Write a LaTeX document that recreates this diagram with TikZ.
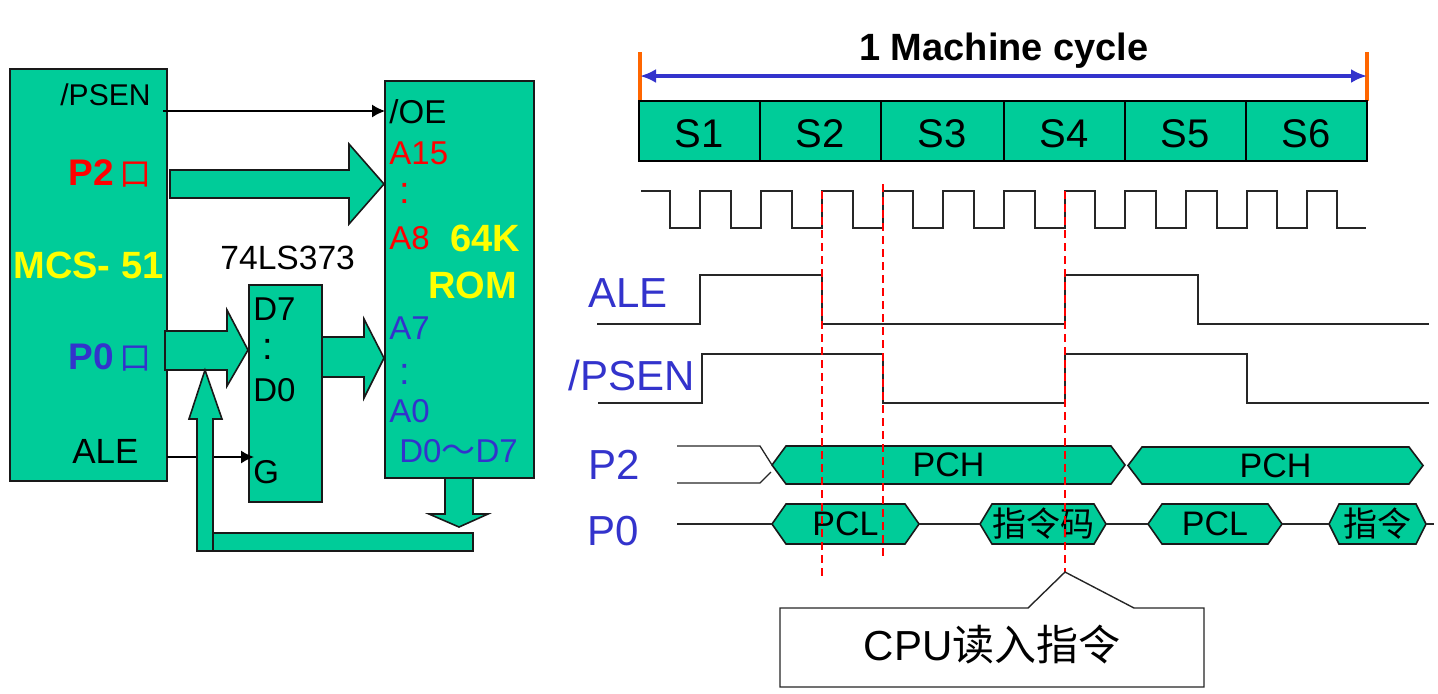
\documentclass[tikz,border=0pt]{standalone}
\usepackage{fontspec}
\setmainfont{Liberation Sans}
\newfontfamily\cjk{Noto Sans CJK SC}
\usetikzlibrary{arrows.meta}
\definecolor{grn}{HTML}{00CC99}
\definecolor{blu}{HTML}{3333CC}
\definecolor{redd}{HTML}{FF0000}
\definecolor{yel}{HTML}{FFFF00}
\definecolor{org}{HTML}{FF6600}
\newcommand{\fsz}[1]{\fontsize{#1}{#1}\selectfont}
\newcommand{\hexa}[7]{% name,x1,x2,y1,y2,inset,text
  \coordinate (#1-l) at (#2,{(#4+#5)/2});
  \coordinate (#1-r) at (#3,{(#4+#5)/2});
  \draw[blockshape] (#1-l) -- (#2+#6,#4) -- (#3-#6,#4) -- (#1-r) -- (#3-#6,#5) -- (#2+#6,#5) -- cycle;
  \node[txt,font=\fsz{17}] (#1) at ({(#2+#3)/2},{(#4+#5)/2}) {#7};
}
\tikzset{
  x=0.5pt,y=-0.5pt,
  blockshape/.style={draw=black!90,fill=grn,line width=0.8pt,line join=miter},
  blockbox/.style={draw=black!90,fill=grn,line width=0.8pt,anchor=north west,inner sep=0pt},
  cell/.style={draw=black,fill=grn,line width=0.8pt,inner sep=0pt,minimum height=30pt,font=\fsz{20},text height=16.3pt,text depth=0pt},
  txt/.style={inner sep=0pt,text=black,font=\fsz{16}},
  dots/.style={inner sep=0pt,font=\fsz{19}},
  boldy/.style={inner sep=0pt,text=yel,font=\fsz{19}\bfseries},
  wire/.style={draw=black,line width=0.7pt,-{Latex[length=6.5pt,width=6.5pt]}},
  sig/.style={draw=black!85,line width=0.65pt,line join=miter},
  guide/.style={draw=redd,line width=0.6pt,dash pattern=on 4pt off 2.5pt},
  tick/.style={draw=org,line width=1.9pt},
  span/.style={draw=blu,line width=1.9pt,{Latex[length=8pt,width=7pt]}-{Latex[length=8pt,width=7pt]}},
}
\begin{document}
\begin{tikzpicture}
\useasboundingbox (0,0) rectangle (1438,693);
% Left: boxes
\node[blockbox,minimum width=78.5pt,minimum height=206pt] (mcu) at (9,68) {};
\node[blockbox,minimum width=74.5pt,minimum height=198.5pt] (rom) at (384,80) {};
\node[blockbox,minimum width=36.5pt,minimum height=108.5pt] (latch) at (248,284) {};
% Left: thin connectors
\coordinate (psenout) at (163,111);
\coordinate (oein) at (385,111);
\draw[wire] (psenout) -- (oein);
\coordinate (aleout) at (167,457);
\coordinate (gin) at (254,457);
\draw[wire] (aleout) -- (gin);
% Left: block arrows
\draw[blockshape] (170,170) -- (349,170) -- (349,144) -- (384,184) -- (349,224) -- (349,198) -- (170,198) -- cycle;
\draw[blockshape] (165,331) -- (227,331) -- (227,310) -- (248,350) -- (227,386) -- (227,370) -- (165,370) -- cycle;
\draw[blockshape] (322,337) -- (364,337) -- (364,319) -- (384,358) -- (364,398) -- (364,377) -- (322,377) -- cycle;
\draw[blockshape] (445,478) -- (473,478) -- (473,514) -- (488,514) -- (459,527) -- (429,514) -- (445,514) -- cycle;
\draw[blockshape] (213,533) -- (473,533) -- (473,551) -- (213,551) -- cycle;
\draw[blockshape] (197,551) -- (197,419) -- (189,419) -- (205,370) -- (222,419) -- (213,419) -- (213,551) -- cycle;
% Left: text
\node[txt,anchor=west,font=\fsz{15}] (tpsen) at (60,95) {/PSEN};
\node[inner sep=0pt,text=redd,font=\fsz{18.5}\bfseries,anchor=west] (tp2) at (68,173) {P2\hspace{3pt}{\cjk\mdseries\fsz{16}口}};
\node[boldy,anchor=west] (tmcs) at (13,265) {MCS- 51};
\node[inner sep=0pt,text=blu,font=\fsz{18.5}\bfseries,anchor=west] (tp0) at (68,357) {P0\hspace{3pt}{\cjk\mdseries\fsz{16}口}};
\node[txt,anchor=west,font=\fsz{17.5}] (tale) at (72,451) {ALE};
\node[txt,anchor=west,font=\fsz{16.8}] (t373) at (220,258) {74LS373};
\node[txt,anchor=west,font=\fsz{16.5}] (td7) at (253,309) {D7};
\node[dots] (tdd) at (268,349) {:};
\node[txt,anchor=west,font=\fsz{16.5}] (td0) at (253,390) {D0};
\node[txt,anchor=west,font=\fsz{16.5}] (tg) at (253,472) {G};
\node[txt,anchor=west,font=\fsz{16.5}] (toe) at (389,112) {/OE};
\node[txt,anchor=west,text=redd,font=\fsz{16.5}] (ta15) at (389,153) {A15};
\node[dots,text=redd] (tr1) at (405,193) {:};
\node[txt,anchor=west,text=redd,font=\fsz{16.5}] (ta8) at (389,238) {A8};
\node[boldy,anchor=west] (t64) at (450,238) {64K};
\node[boldy,anchor=west] (trom) at (428,285) {ROM};
\node[txt,anchor=west,text=blu,font=\fsz{16.5}] (ta7) at (389,328) {A7};
\node[dots,text=blu] (tb1) at (405,374) {:};
\node[txt,anchor=west,text=blu,font=\fsz{16.5}] (ta0) at (389,411) {A0};
\node[txt,anchor=west,text=blu,font=\fsz{16.5}] (tdr) at (399,451) {D0{\cjk\fsz{17}～}D7};
% Right: top
\node[inner sep=0pt,font=\fsz{19}\bfseries] (title) at (1004,51) {1 Machine cycle};
\coordinate (t1a) at (640,52); \coordinate (t1b) at (640,101);
\coordinate (t2a) at (1367,52); \coordinate (t2b) at (1367,101);
\draw[tick] (t1a) -- (t1b);
\draw[tick] (t2a) -- (t2b);
\coordinate (sa) at (640,76); \coordinate (sb) at (1367,76);
\draw[span] (sa) -- (sb);
\node[cell,minimum width=60.5pt,anchor=north west] (s1) at (638,100) {S1};
\node[cell,minimum width=60.5pt,anchor=north west] (s2) at (759,100) {S2};
\node[cell,minimum width=61.5pt,anchor=north west] (s3) at (880,100) {S3};
\node[cell,minimum width=60.5pt,anchor=north west] (s4) at (1003,100) {S4};
\node[cell,minimum width=60.5pt,anchor=north west] (s5) at (1124,100) {S5};
\node[cell,minimum width=60.5pt,anchor=north west] (s6) at (1245,100) {S6};
% Waveforms
\draw[sig] (641,191) -- (670,191) -- (670,228) -- (700,228) -- (700,191) -- (731,191) -- (731,228) -- (761,228) -- (761,191) -- (792,191) -- (792,228) -- (822,228) -- (822,191) -- (853,191) -- (853,228) -- (883,228) -- (883,191) -- (913,191) -- (913,228) -- (943,228) -- (943,191) -- (974,191) -- (974,228) -- (1004,228) -- (1004,191) -- (1035,191) -- (1035,228) -- (1065,228) -- (1065,191) -- (1095,191) -- (1095,228) -- (1125,228) -- (1125,191) -- (1156,191) -- (1156,228) -- (1186,228) -- (1186,191) -- (1217,191) -- (1217,228) -- (1247,228) -- (1247,191) -- (1277,191) -- (1277,228) -- (1307,228) -- (1307,191) -- (1337,191) -- (1337,228) -- (1366,228);
\draw[sig] (597,324) -- (700,324) -- (700,275) -- (822,275) -- (822,324) -- (1065,324) -- (1065,275) -- (1198,275) -- (1198,324) -- (1429,324);
\draw[sig] (598,403) -- (702,403) -- (702,354) -- (883,354) -- (883,403) -- (1065,403) -- (1065,354) -- (1247,354) -- (1247,403) -- (1429,403);
% Signal labels
\node[inner sep=0pt,text=blu,font=\fsz{21}] (lale) at (628,293) {ALE};
\node[inner sep=0pt,text=blu,font=\fsz{21}] (lpsen) at (632,375) {/PSEN};
\node[inner sep=0pt,text=blu,font=\fsz{21}] (lp2) at (614,465) {P2};
\node[inner sep=0pt,text=blu,font=\fsz{21}] (lp0) at (613,531) {P0};
% Buses
\hexa{pcha}{772}{1125}{446}{484}{14}{PCH}
\hexa{pchb}{1128}{1423}{447}{484}{14}{PCH}
\coordinate (p2a) at (677,446); \coordinate (p2b) at (677,483);
\draw[sig] (p2a) -- (760,446) -- (pcha-l);
\draw[sig] (p2b) -- (760,483) -- (771,472);
\hexa{pcla}{772}{919}{504}{544}{14}{PCL}
\hexa{cmda}{980}{1106}{504}{544}{12}{\cjk 指令码}
\hexa{pclb}{1148}{1282}{504}{544}{14}{PCL}
\hexa{cmdb}{1329}{1426}{504}{544}{10}{\cjk 指令}
\coordinate (p0a) at (677,524); \coordinate (p0b) at (1434,524);
\draw[sig] (p0a) -- (pcla-l);
\draw[sig] (pcla-r) -- (cmda-l);
\draw[sig] (cmda-r) -- (pclb-l);
\draw[sig] (pclb-r) -- (cmdb-l);
\draw[sig] (cmdb-r) -- (p0b);
% Guides
\coordinate (g1a) at (822,191); \coordinate (g1b) at (822,578);
\coordinate (g2a) at (883,184); \coordinate (g2b) at (883,560);
\coordinate (g3a) at (1065,191); \coordinate (g3b) at (1065,572);
\draw[guide] (g1a) -- (g1b);
\draw[guide] (g2a) -- (g2b);
\draw[guide] (g3a) -- (g3b);
% Callout
\draw[draw=black!85,fill=white,line width=0.7pt] (780,608) -- (1028,608) -- (g3b) -- (1134,608) -- (1204,608) -- (1204,687) -- (780,687) -- cycle;
\node[inner sep=0pt,font=\fsz{21}] (cpu) at (992,645) {CPU{\cjk 读入指令}};
\end{tikzpicture}
\end{document}
